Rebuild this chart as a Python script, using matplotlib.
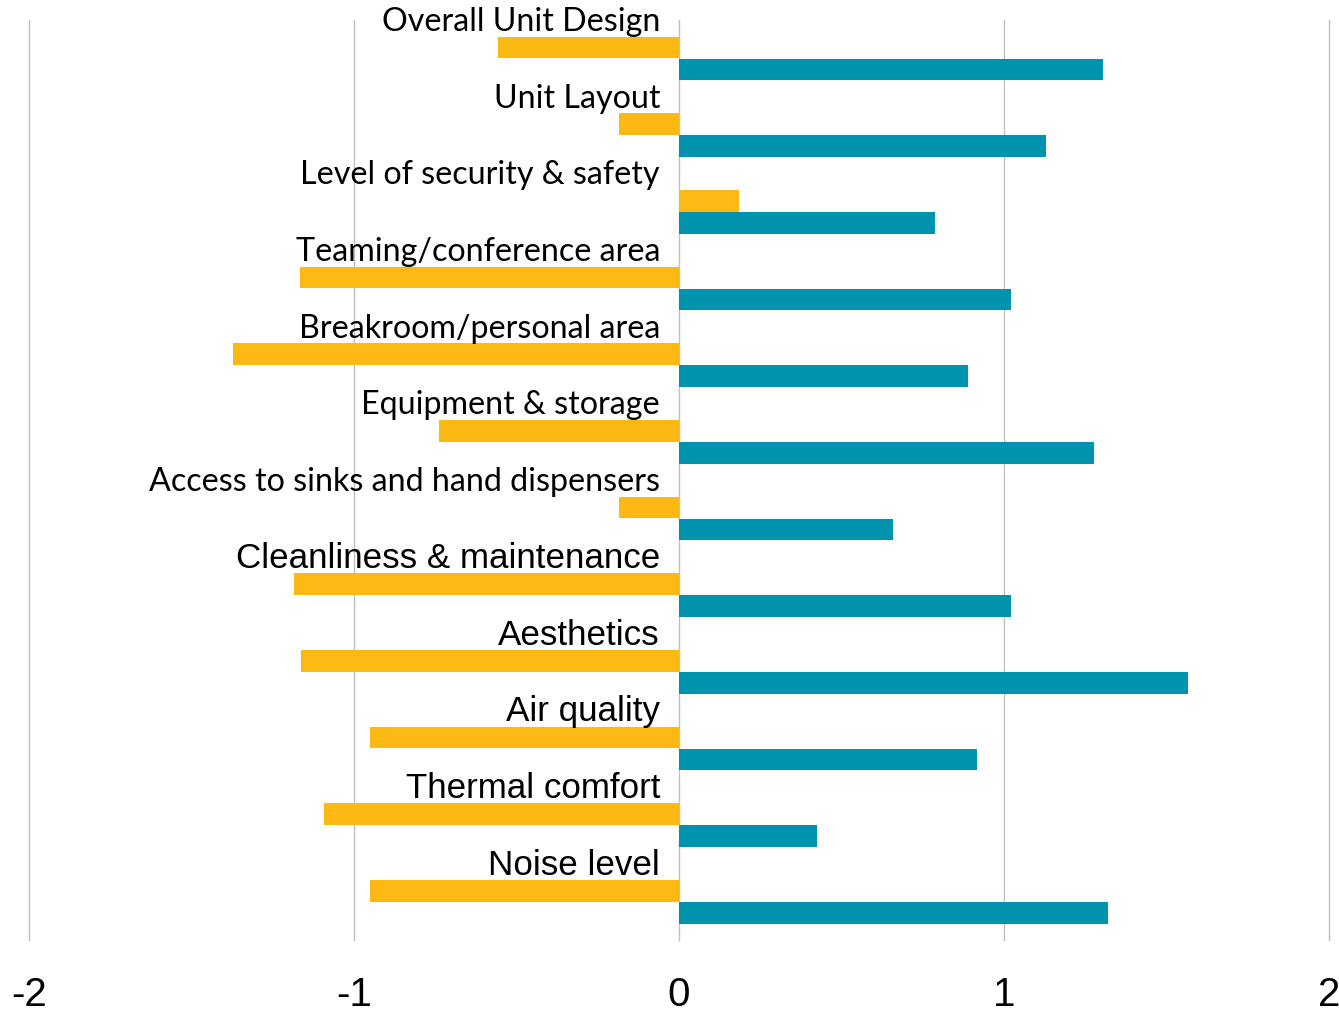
import matplotlib.pyplot as plt
import numpy as np

categories = [
    "Overall Unit Design",
    "Unit Layout",
    "Level of security & safety",
    "Teaming/conference area",
    "Breakroom/personal area",
    "Equipment & storage",
    "Access to sinks and hand dispensers",
    "Cleanliness & maintenance",
    "Aesthetics",
    "Air quality",
    "Thermal comfort",
    "Noise level",
]
yellow_vals = [-0.557, -0.185, 0.185, -1.166, -1.372, -0.738, -0.185,
               -1.185, -1.163, -0.951, -1.092, -0.951]
teal_vals = [1.305, 1.129, 0.788, 1.022, 0.889, 1.277, 0.658,
             1.022, 1.566, 0.917, 0.425, 1.320]
x_ticks = [-2, -1, 0, 1, 2]

# first seven labels are in a Calibri-like face, the rest in Arial
calibri_count = 7

fig = plt.figure(figsize=(13.39, 10.13), dpi=100)
ax = fig.add_axes([29 / 1339, 73 / 1013, 1300 / 1339, 920 / 1013])

idx = np.arange(len(categories))
for xv in x_ticks:
    ax.axvline(xv, color="#c0c0c0", lw=1, zorder=0, clip_on=False)

ax.barh(idx + 0.359, yellow_vals, height=0.28, color="#FDB913", zorder=2)
ax.barh(idx + 0.646, teal_vals, height=0.28, color="#0093AE", zorder=2)

for i, label in enumerate(categories):
    if i < calibri_count:
        family, size = "Lato", 23.2
    else:
        family, size = "Liberation Sans", 25.2
    ax.annotate(label, xy=(0, i), xytext=(-19, -2), textcoords="offset pixels",
                ha="right", va="center", fontsize=size, family=family,
                color="black", zorder=3)

ax.set_xlim(-2, 2)
ax.set_ylim(len(categories), 0)
ax.set_xticks(x_ticks)
ax.set_xticklabels([str(t) for t in x_ticks], fontsize=29, family="Liberation Sans")
ax.tick_params(axis="x", length=0, pad=26)
ax.set_yticks([])
for s in ax.spines.values():
    s.set_visible(False)

fig.savefig("out.png", dpi=100)
